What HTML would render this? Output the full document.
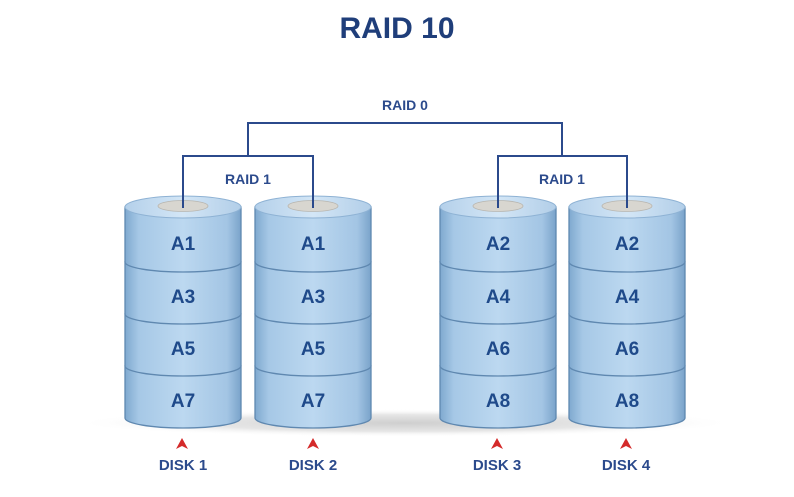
<!DOCTYPE html>
<html><head><meta charset="utf-8"><style>
html,body{margin:0;padding:0;background:#fff;}
svg{display:block;}
text{font-family:"Liberation Sans",Arial,sans-serif;font-weight:bold;}
</style></head><body>
<svg width="794" height="497" viewBox="0 0 794 497" xmlns="http://www.w3.org/2000/svg">
<defs>
<linearGradient id="body" x1="0" x2="1" y1="0" y2="0">
<stop offset="0" stop-color="#7fa9cf"/>
<stop offset="0.12" stop-color="#a6c8e6"/>
<stop offset="0.5" stop-color="#bcd8f0"/>
<stop offset="0.88" stop-color="#a3c5e4"/>
<stop offset="1" stop-color="#7aa3ca"/>
</linearGradient>
<linearGradient id="top" x1="0" x2="1">
<stop offset="0" stop-color="#b4d0ea"/>
<stop offset="0.5" stop-color="#d3e6f6"/>
<stop offset="1" stop-color="#b2cee8"/>
</linearGradient>
<radialGradient id="floor" cx="0.5" cy="0.5" r="0.5">
<stop offset="0" stop-color="#cfcfcf"/>
<stop offset="0.6" stop-color="#e6e6e6"/>
<stop offset="1" stop-color="#ffffff" stop-opacity="0"/>
</radialGradient>
<g id="cyl">
<path d="M0,366 L0,418 A58 10 0 0 0 116,418 L116,366 Z" fill="url(#body)" stroke="#5f88b0" stroke-width="1.3"/>
<path d="M0,314 L0,366 A58 10 0 0 0 116,366 L116,314 Z" fill="url(#body)" stroke="#5f88b0" stroke-width="1.3"/>
<path d="M0,262 L0,314 A58 10 0 0 0 116,314 L116,262 Z" fill="url(#body)" stroke="#5f88b0" stroke-width="1.3"/>
<path d="M0,207 L0,262 A58 10 0 0 0 116,262 L116,207 Z" fill="url(#body)" stroke="#5f88b0" stroke-width="1.3"/>
<ellipse cx="58" cy="207" rx="58" ry="11" fill="url(#top)" stroke="#8eb2d4" stroke-width="1"/>
<ellipse cx="58" cy="206" rx="25" ry="5.5" fill="#d8d6d0" stroke="#b8b6b0" stroke-width="0.8"/>
</g>
</defs>
<text x="397" y="38" font-size="30" fill="#1f3e7a" text-anchor="middle">RAID 10</text>
<ellipse cx="405" cy="423" rx="330" ry="14" fill="url(#floor)"/>
<use href="#cyl" x="125"/>
<use href="#cyl" x="255"/>
<use href="#cyl" x="440"/>
<use href="#cyl" x="569"/>
<g fill="none" stroke="#2b4a8c" stroke-width="2">
<path d="M248,156 L248,123 L562,123 L562,156"/>
<path d="M183,208 L183,156 L313,156 L313,208"/>
<path d="M498,208 L498,156 L627,156 L627,208"/>
</g>
<text x="405" y="110" font-size="14" fill="#2b4a8c" text-anchor="middle">RAID 0</text>
<text x="248" y="184" font-size="14" fill="#2b4a8c" text-anchor="middle">RAID 1</text>
<text x="562" y="184" font-size="14" fill="#2b4a8c" text-anchor="middle">RAID 1</text>
<g font-size="19" fill="#1f4a8a" text-anchor="middle">
<text x="183" y="250">A1</text><text x="183" y="303">A3</text><text x="183" y="355">A5</text><text x="183" y="407">A7</text>
<text x="313" y="250">A1</text><text x="313" y="303">A3</text><text x="313" y="355">A5</text><text x="313" y="407">A7</text>
<text x="498" y="250">A2</text><text x="498" y="303">A4</text><text x="498" y="355">A6</text><text x="498" y="407">A8</text>
<text x="627" y="250">A2</text><text x="627" y="303">A4</text><text x="627" y="355">A6</text><text x="627" y="407">A8</text>
</g>
<g fill="#d42a2a">
<path d="M176,449 L182,438 L188,449 L182,446 Z"/>
<path d="M307,449 L313,438 L319,449 L313,446 Z"/>
<path d="M491,449 L497,438 L503,449 L497,446 Z"/>
<path d="M620,449 L626,438 L632,449 L626,446 Z"/>
</g>
<g font-size="15" fill="#2b4a8c" text-anchor="middle">
<text x="183" y="470">DISK 1</text>
<text x="313" y="470">DISK 2</text>
<text x="497" y="470">DISK 3</text>
<text x="626" y="470">DISK 4</text>
</g>
</svg>
</body></html>
